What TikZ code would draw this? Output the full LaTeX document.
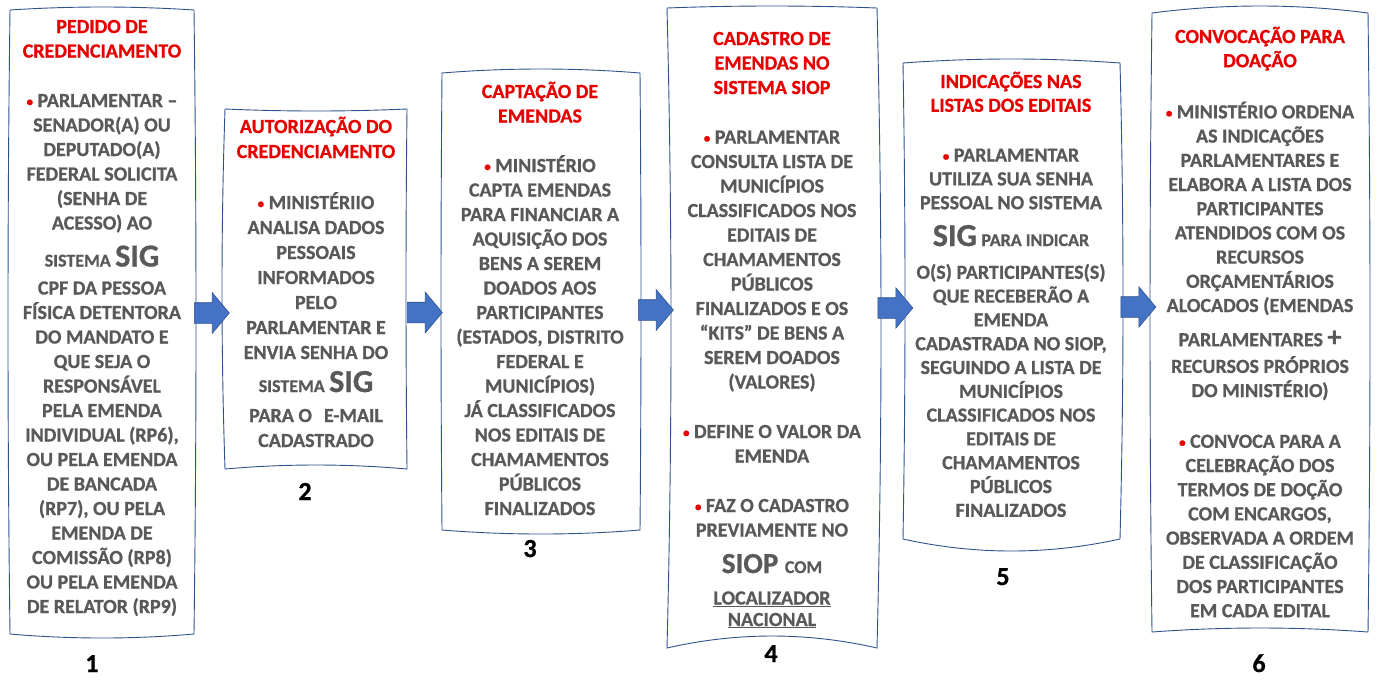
\documentclass[tikz,border=0pt]{standalone}
\usepackage{fontspec}
\setmainfont{Carlito}[BoldFeatures={FakeBold=0.8}]
\usetikzlibrary{shapes.arrows}
\definecolor{tred}{RGB}{230,0,0}
\definecolor{tgray}{RGB}{89,89,89}
\definecolor{bblue}{RGB}{47,82,143}
\definecolor{afill}{RGB}{68,114,196}
\lineskiplimit=-50pt
\newcommand\tit[1]{\textcolor{tred}{#1}}
\newcommand\bul{\textcolor{tred}{\raisebox{1pt}{\fontsize{13}{13}\selectfont•}}\ }
\newcommand\smc[1]{{\fontsize{18}{18}\selectfont #1}}
\newcommand\bigf[1]{{\fontsize{32}{32}\selectfont #1}}
\newcommand\st{\rule{0pt}{20pt}}
% x1 y1 x2 y2 top bottom left right (mid displacement; + = down / right)
\newcommand\wbox[8]{%
 \draw[border] (#1,#2)
  .. controls ({#1+(#3-#1)/3},{#2+1.333*(#5)}) and ({#1+2*(#3-#1)/3},{#2+1.333*(#5)}) .. (#3,#2)
  .. controls ({#3+1.333*(#8)},{#2+(#4-#2)/3}) and ({#3+1.333*(#8)},{#2+2*(#4-#2)/3}) .. (#3,#4)
  .. controls ({#1+2*(#3-#1)/3},{#4+1.333*(#6)}) and ({#1+(#3-#1)/3},{#4+1.333*(#6)}) .. (#1,#4)
  .. controls ({#1+1.333*(#7)},{#2+2*(#4-#2)/3}) and ({#1+1.333*(#7)},{#2+(#4-#2)/3}) .. cycle;}
\begin{document}
\begin{tikzpicture}[x=1pt,y=-1pt,
  border/.style={draw=bblue,line width=0.9pt,fill=white},
  body/.style={anchor=north,inner sep=0pt,outer sep=0pt,align=center,text=tgray,font=\fontsize{20}{#1}\selectfont\bfseries},
  body/.default=24.5,
  num/.style={anchor=base,inner sep=0pt,font=\fontsize{26}{26}\selectfont\bfseries,text=black},
  barrow/.style={single arrow,fill=afill,draw=bblue,line width=0.6pt,inner sep=0pt,
    single arrow head extend=10pt,single arrow tip angle=100,minimum height=35pt}]
\useasboundingbox (0,0) rectangle (1380,683);
\fill[white] (0,0) rectangle (1380,683);

% box outlines
\wbox{10}{10}{194}{634}{-3}{4}{-2}{2}
\wbox{225}{109}{407}{469}{2}{-4}{-3}{-1}
\wbox{442}{73}{640}{530}{-4}{4}{-1}{1}
\wbox{667}{8}{877}{648}{-2}{-12}{4}{4}
\wbox{903}{63}{1120}{539}{-4}{12}{2}{3}
\wbox{1152}{13}{1368}{632}{-7}{-4}{-2}{2}

% box 1
\node[body] (t1) at (102,13) {\st\tit{PEDIDO DE}\\
\tit{CREDENCIAMENTO}\\[25pt]
\bul PARLAMENTAR –\\
SENADOR(A) OU\\
DEPUTADO(A)\\
FEDERAL SOLICITA\\
(SENHA DE\\
ACESSO) AO\\[12.5pt]
\smc{SISTEMA} \bigf{SIG}\\[3.5pt]
CPF DA PESSOA\\
FÍSICA DETENTORA\\
DO MANDATO E\\
QUE SEJA O\\
RESPONSÁVEL\\
PELA EMENDA\\
INDIVIDUAL (RP6),\\
OU PELA EMENDA\\
DE BANCADA\\
(RP7), OU PELA\\
EMENDA DE\\
COMISSÃO (RP8)\\
OU PELA EMENDA\\
DE RELATOR (RP9)};

% box 2
\node[body=25] (t2) at (316,113) {\st\tit{AUTORIZAÇÃO DO}\\
\tit{CREDENCIAMENTO}\\[26pt]
\bul MINISTÉRIIO\\
ANALISA DADOS\\
PESSOAIS\\
INFORMADOS\\
PELO\\
PARLAMENTAR E\\
ENVIA SENHA DO\\[8pt]
\smc{SISTEMA} \bigf{SIG}\\[5pt]
PARA O\hspace{12pt}E-MAIL\\
CADASTRADO};

% box 3
\node[body] (t3) at (540,78) {\st\tit{CAPTAÇÃO DE}\\
\tit{EMENDAS}\\[25pt]
\bul MINISTÉRIO\\
CAPTA EMENDAS\\
PARA FINANCIAR A\\
AQUISIÇÃO DOS\\
BENS A SEREM\\
DOADOS AOS\\
PARTICIPANTES\\
(ESTADOS, DISTRITO\\
FEDERAL E\\
MUNICÍPIOS)\\
JÁ CLASSIFICADOS\\
NOS EDITAIS DE\\
CHAMAMENTOS\\
PÚBLICOS\\
FINALIZADOS};

% box 4
\node[body] (t4) at (772,25) {\st\tit{CADASTRO DE}\\
\tit{EMENDAS NO}\\
\tit{SISTEMA SIOP}\\[25pt]
\bul PARLAMENTAR\\
CONSULTA LISTA DE\\
MUNICÍPIOS\\
CLASSIFICADOS NOS\\
EDITAIS DE\\
CHAMAMENTOS\\
PÚBLICOS\\
FINALIZADOS E OS\\
“KITS” DE BENS A\\
SEREM DOADOS\\
(VALORES)\\[25pt]
\bul DEFINE O VALOR DA\\
EMENDA\\[25pt]
\bul FAZ O CADASTRO\\
PREVIAMENTE NO\\[12pt]
\fontsize{29}{29}\selectfont SIOP \smc{COM}\\[7pt]
\underline{LOCALIZADOR}\\[-3pt]
\underline{NACIONAL}};

% box 5
\node[body=23.8] (t5) at (1011,68) {\st\tit{INDICAÇÕES NAS}\\
\tit{LISTAS DOS EDITAIS}\\[26pt]
\bul PARLAMENTAR\\
UTILIZA SUA SENHA\\
PESSOAL NO SISTEMA\\[13pt]
\bigf{SIG} \smc{PARA INDICAR}\\[9pt]
O(S) PARTICIPANTES(S)\\
QUE RECEBERÃO A\\
EMENDA\\
CADASTRADA NO SIOP,\\
SEGUINDO A LISTA DE\\
MUNICÍPIOS\\
CLASSIFICADOS NOS\\
EDITAIS DE\\
CHAMAMENTOS\\
PÚBLICOS\\
FINALIZADOS};

% box 6
\node[body=24.2] (t6) at (1260,23) {\st\tit{CONVOCAÇÃO PARA}\\
\tit{DOAÇÃO}\\[27pt]
\bul MINISTÉRIO ORDENA\\
AS INDICAÇÕES\\
PARLAMENTARES E\\
ELABORA A LISTA DOS\\
PARTICIPANTES\\
ATENDIDOS COM OS\\
RECURSOS\\
ORÇAMENTÁRIOS\\
ALOCADOS (EMENDAS\\[10pt]
PARLAMENTARES {\fontsize{28}{28}\selectfont +}\\[2.5pt]
RECURSOS PRÓPRIOS\\
DO MINISTÉRIO)\\[26.5pt]
\bul CONVOCA PARA A\\
CELEBRAÇÃO DOS\\
TERMOS DE DOÇÃO\\
COM ENCARGOS,\\
OBSERVADA A ORDEM\\
DE CLASSIFICAÇÃO\\
DOS PARTICIPANTES\\
EM CADA EDITAL};

% step numbers
\node[num] (n1) at (92,672) {1};
\node[num] (n2) at (305,500) {2};
\node[num] (n3) at (530,557) {3};
\node[num] (n4) at (771,662) {4};
\node[num] (n5) at (1003,585) {5};
\node[num] (n6) at (1259,672) {6};

% block arrows
\node[barrow] (a1) at (207.5,313) {\rule{0pt}{20pt}};
\node[barrow] (a2) at (420.5,312.5) {\rule{0pt}{20pt}};
\node[barrow] (a3) at (651.5,310) {\rule{0pt}{20pt}};
\node[barrow] (a4) at (891,308) {\rule{0pt}{20pt}};
\node[barrow] (a5) at (1134,307) {\rule{0pt}{20pt}};
\end{tikzpicture}
\end{document}
